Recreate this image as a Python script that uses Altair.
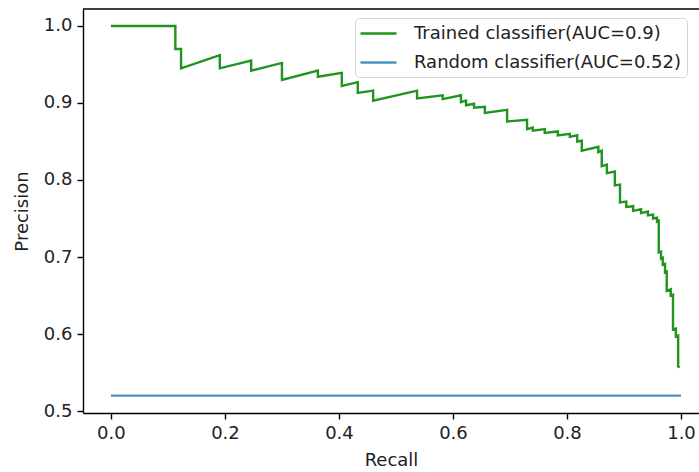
import altair as alt
import pandas as pd

# ---- data ----
trained_recall = [
    0.000, 0.113, 0.113, 0.123, 0.123, 0.191, 0.191, 0.246, 0.246, 0.300,
    0.300, 0.363, 0.363, 0.405, 0.405, 0.433, 0.433, 0.460, 0.460, 0.537,
    0.537, 0.582, 0.582, 0.614, 0.614, 0.623, 0.623, 0.637, 0.637, 0.656,
    0.656, 0.695, 0.695, 0.730, 0.730, 0.740, 0.740, 0.761, 0.761, 0.784,
    0.784, 0.805, 0.805, 0.818, 0.818, 0.826, 0.826, 0.855, 0.855, 0.861,
    0.861, 0.870, 0.870, 0.884, 0.884, 0.893, 0.893, 0.904, 0.904, 0.916,
    0.916, 0.930, 0.930, 0.942, 0.942, 0.951, 0.951, 0.958, 0.958, 0.961,
    0.961, 0.965, 0.965, 0.968, 0.968, 0.972, 0.972, 0.975, 0.975, 0.982,
    0.982, 0.986, 0.986, 0.991, 0.991, 0.995, 0.995, 0.998,
]
trained_precision = [
    1.000, 1.000, 0.970, 0.970, 0.945, 0.962, 0.945, 0.955, 0.942, 0.952,
    0.930, 0.942, 0.934, 0.939, 0.922, 0.927, 0.913, 0.916, 0.903, 0.916,
    0.906, 0.910, 0.905, 0.910, 0.901, 0.903, 0.897, 0.899, 0.894, 0.895,
    0.887, 0.891, 0.876, 0.878, 0.866, 0.868, 0.864, 0.866, 0.861, 0.863,
    0.858, 0.860, 0.856, 0.858, 0.850, 0.851, 0.838, 0.843, 0.836, 0.838,
    0.818, 0.820, 0.809, 0.811, 0.793, 0.794, 0.771, 0.772, 0.765, 0.766,
    0.760, 0.762, 0.757, 0.759, 0.754, 0.755, 0.750, 0.751, 0.746, 0.747,
    0.706, 0.707, 0.698, 0.699, 0.690, 0.691, 0.680, 0.681, 0.656, 0.658,
    0.650, 0.651, 0.606, 0.607, 0.597, 0.598, 0.558, 0.557,
]
random_recall = [0.0, 1.0]
random_precision = [0.52, 0.52]

series_labels = ["Trained classifier(AUC=0.9)", "Random classifier(AUC=0.52)"]
series_colors = ["#1f951f", "#4c92c3"]
x_ticks = [0.0, 0.2, 0.4, 0.6, 0.8, 1.0]
y_ticks = [0.5, 0.6, 0.7, 0.8, 0.9, 1.0]
x_domain = [-0.049, 1.0316]
y_domain = [0.4975, 1.022]

rows = []
for i, (r, p) in enumerate(zip(trained_recall, trained_precision)):
    rows.append({"recall": r, "precision": p, "series": series_labels[0], "i": i})
for i, (r, p) in enumerate(zip(random_recall, random_precision)):
    rows.append({"recall": r, "precision": p, "series": series_labels[1], "i": i})
df = pd.DataFrame(rows)

FONT = "DejaVu Sans"
xscale = alt.Scale(domain=x_domain, nice=False, zero=False)
yscale = alt.Scale(domain=y_domain, nice=False, zero=False)

lines = alt.Chart(df).mark_line(strokeWidth=2.4).encode(
    x=alt.X("recall:Q", scale=xscale,
            axis=alt.Axis(values=x_ticks, format=".1f", title="Recall",
                          titlePadding=9)),
    y=alt.Y("precision:Q", scale=yscale,
            axis=alt.Axis(values=y_ticks, format=".1f", title="Precision",
                          titlePadding=12)),
    color=alt.Color("series:N",
                    scale=alt.Scale(domain=series_labels, range=series_colors),
                    legend=alt.Legend(
                        title=None, orient="none", legendX=272, legendY=9,
                        symbolType="M-2,0H2", symbolSize=324,
                        symbolStrokeWidth=2.6, symbolOffset=8,
                        labelFont=FONT,
                        labelFontSize=18, labelColor="#222222",
                        labelOffset=25, labelLimit=0, padding=5,
                        rowPadding=9, fillColor="white",
                        strokeColor="#d6d6d6", cornerRadius=4)),
    order="i:Q",
)

top_spine = alt.Chart(pd.DataFrame({"a": [0]})).mark_rule(
    color="black", strokeWidth=1.4
).encode(y=alt.datum(y_domain[1]))

chart = alt.layer(lines, top_spine).properties(
    width=616, height=404,
    autosize=alt.AutoSizeParams(type="none"),
    padding={"left": 83, "top": 9, "right": 0, "bottom": 59},
).configure_view(stroke=None).configure_axis(
    grid=False, domainColor="black", domainWidth=1.4,
    tickColor="black", tickWidth=1.4, tickSize=6,
    labelFont=FONT, labelFontSize=18, labelColor="#222222", labelPadding=5,
    titleFont=FONT, titleFontSize=18, titleFontWeight="normal",
    titleColor="#222222",
)

chart.save("out.html", embed_options={"renderer": "svg", "actions": False})
